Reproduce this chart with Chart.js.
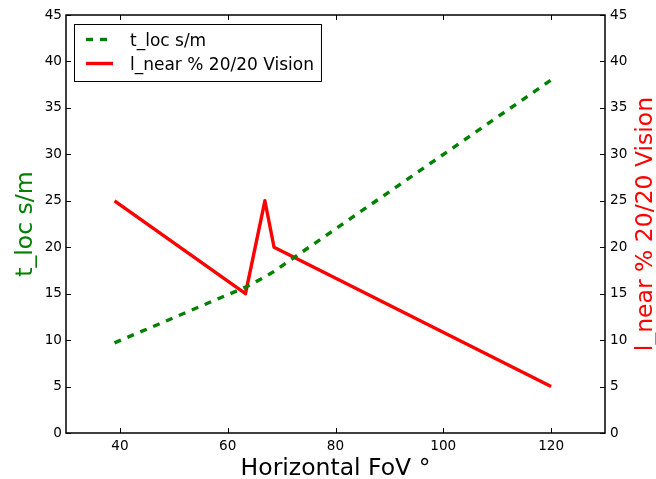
<!DOCTYPE html>
<html lang="en">
<head>
<meta charset="UTF-8">
<title>Horizontal FoV</title>
<script src="https://cdn.jsdelivr.net/npm/chart.js"></script>
<style>
  html, body { margin: 0; padding: 0; background: #fff; }
  canvas { display: block; }
</style>
</head>
<body>
<canvas id="fovChart" width="656" height="479"></canvas>
<script>
// values
const fov = [39, 63.3, 66.9, 68.6, 120];
const tLoc = [9.7, 15.7, 16.8, 17.4, 38];
const lNear = [25, 15, 25, 20, 5];
const xTicks = [40, 60, 80, 100, 120];

const FONT = 'DejaVu Sans';
const GREEN = '#008000';
const RED = '#ff0000';

function points(ys) {
  return fov.map((x, i) => ({ x: x, y: ys[i] }));
}

// matplotlib style: frame, inward ticks on all sides, right label, boxed legend
const mplFrame = {
  id: 'mplFrame',
  afterDraw(chart) {
    const ctx = chart.ctx;
    const a = chart.chartArea;
    const sx = chart.scales.x, sy = chart.scales.y;
    ctx.save();

    ctx.strokeStyle = '#000';
    ctx.lineWidth = 1;
    ctx.beginPath();
    sx.ticks.forEach(t => {
      const px = Math.round(sx.getPixelForValue(t.value)) + 0.5;
      ctx.moveTo(px, a.bottom); ctx.lineTo(px, a.bottom - 5);
      ctx.moveTo(px, a.top); ctx.lineTo(px, a.top + 5);
    });
    sy.ticks.forEach(t => {
      const py = Math.round(sy.getPixelForValue(t.value)) + 0.5;
      ctx.moveTo(a.left, py); ctx.lineTo(a.left + 5, py);
      ctx.moveTo(a.right, py); ctx.lineTo(a.right - 5, py);
    });
    ctx.stroke();
    ctx.lineWidth = 1.5;
    ctx.strokeRect(a.left, a.top, a.right - a.left, a.bottom - a.top);

    // right axis title, reads bottom to top like the left one
    ctx.save();
    ctx.translate(652, (a.top + a.bottom) / 2);
    ctx.rotate(-Math.PI / 2);
    ctx.font = '23.5px "' + FONT + '"';
    ctx.fillStyle = RED;
    ctx.textAlign = 'center';
    ctx.textBaseline = 'alphabetic';
    ctx.fillText('l_near % 20/20 Vision', 0, 0);
    ctx.restore();

    // legend
    const ds = chart.data.datasets;
    ctx.font = '17px "' + FONT + '"';
    const bx = a.left + 8, by = a.top + 9;
    const textX = a.left + 64;
    let widest = 0;
    ds.forEach(d => { widest = Math.max(widest, ctx.measureText(d.label).width); });
    const bw = textX - bx + widest + 7;
    const bh = 57;
    ctx.fillStyle = '#fff';
    ctx.fillRect(bx, by, bw, bh);
    ctx.strokeStyle = '#000';
    ctx.lineWidth = 1;
    ctx.strokeRect(bx + 0.5, by + 0.5, bw, bh);
    ds.forEach((d, i) => {
      const cy = by + 15.5 + i * 24;
      ctx.strokeStyle = d.borderColor;
      ctx.lineWidth = d.borderWidth;
      ctx.setLineDash(d.borderDash || []);
      ctx.beginPath();
      ctx.moveTo(a.left + 20, cy);
      ctx.lineTo(a.left + 47, cy);
      ctx.stroke();
      ctx.setLineDash([]);
      ctx.fillStyle = '#000';
      ctx.textAlign = 'left';
      ctx.textBaseline = 'alphabetic';
      ctx.fillText(d.label, textX, cy + 6);
    });
    ctx.restore();
  }
};

const tickFont = { family: FONT, size: 13.6 };
const titleFont = { family: FONT, size: 23.5, lineHeight: 0.85 };

const ctx = document.getElementById('fovChart').getContext('2d');
const fovChart = new Chart(ctx, {
  type: 'line',
  data: {
    datasets: [{
      label: 't_loc s/m',
      data: points(tLoc),
      borderColor: GREEN,
      borderWidth: 3.4,
      borderDash: [7, 7],
      pointRadius: 0,
      tension: 0,
      fill: false,
      yAxisID: 'y'
    }, {
      label: 'l_near % 20/20 Vision',
      data: points(lNear),
      borderColor: RED,
      borderWidth: 3.4,
      borderJoinStyle: 'round',
      pointRadius: 0,
      tension: 0,
      fill: false,
      yAxisID: 'y1'
    }]
  },
  options: {
    responsive: false,
    animation: false,
    layout: { padding: { top: 15, left: 0, right: 0, bottom: 0 } },
    plugins: {
      legend: { display: false },
      tooltip: { enabled: false }
    },
    scales: {
      x: {
        type: 'linear',
        min: 30,
        max: 130,
        grid: { display: false, drawTicks: false },
        border: { display: false },
        afterBuildTicks: s => { s.ticks = xTicks.map(v => ({ value: v })); },
        afterFit: s => { s.height = 46; },
        ticks: { font: tickFont, color: '#000', padding: 5, maxRotation: 0, autoSkip: false },
        title: { display: true, text: 'Horizontal FoV °', color: '#000', font: titleFont, padding: 0 }
      },
      y: {
        position: 'left',
        min: 0,
        max: 45,
        grid: { display: false, drawTicks: false },
        border: { display: false },
        afterFit: s => { s.width = 66; },
        ticks: { stepSize: 5, font: tickFont, color: '#000', padding: 4 },
        title: { display: true, text: 't_loc s/m', color: GREEN, font: titleFont, padding: { top: 16, bottom: 0 } }
      },
      y1: {
        position: 'right',
        min: 0,
        max: 45,
        grid: { display: false, drawTicks: false },
        border: { display: false },
        afterFit: s => { s.width = 51; },
        ticks: { stepSize: 5, font: tickFont, color: '#000', padding: 5 }
      }
    }
  },
  plugins: [mplFrame]
});
</script>
</body>
</html>
